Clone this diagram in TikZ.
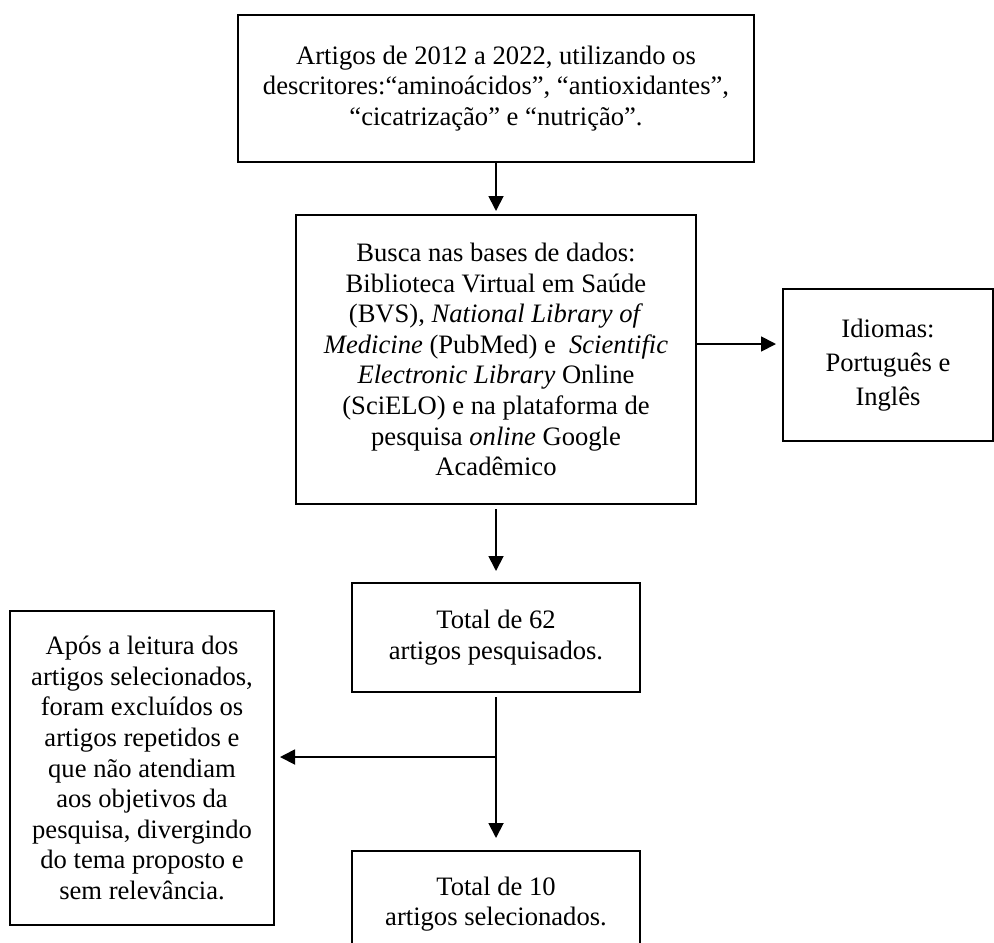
\documentclass[tikz,border=0pt]{standalone}
\usepackage{fontspec}
\setmainfont{Liberation Serif}
\usetikzlibrary{arrows.meta}

\tikzset{
    caixa/.style={draw, line width=1pt, align=center, inner sep=0pt,
        font=\fontsize{13.3}{15.3}\selectfont},
    seta/.style={line width=0.9pt, -{Triangle[width=7.5pt,length=7.5pt]}}
}

\begin{document}
\begin{tikzpicture}[x=0.5pt, y=-0.5pt]
    \useasboundingbox (0,0) rectangle (994,942);
    \clip (0,0) rectangle (994,942);

    % Draw the boxes of the flow
    \node[caixa, minimum width=258pt, minimum height=73.5pt] (artigos) at (496,88.5)
        {Artigos de 2012 a 2022, utilizando os\\descritores:“aminoácidos”, “antioxidantes”,\\“cicatrização” e “nutrição”.};
    \node[caixa, minimum width=200pt, minimum height=144.5pt] (busca) at (496,359.5)
        {Busca nas bases de dados:\\Biblioteca Virtual em Saúde\\(BVS), \textit{National Library of}\\
         \textit{Medicine} (PubMed) e \ \textit{Scientific}\\\textit{Electronic Library} Online\\
         (SciELO) e na plataforma de\\pesquisa \textit{online} Google\\Acadêmico};
    \node[caixa, minimum width=105pt, minimum height=76pt,
        font=\fontsize{13.3}{17}\selectfont] (idiomas) at (888,365)
        {Idiomas:\\Português e\\Inglês};
    \node[caixa, minimum width=144pt, minimum height=54.5pt] (total62) at (496,637.5)
        {Total de 62\\artigos pesquisados.};
    \node[caixa, minimum width=132pt, minimum height=157pt] (exclusao) at (142,768)
        {Após a leitura dos\\artigos selecionados,\\foram excluídos os\\artigos repetidos e\\
         que não atendiam\\aos objetivos da\\pesquisa, divergindo\\do tema proposto e\\sem relevância.};
    \node[caixa, minimum width=144pt, minimum height=53pt] (total10) at (496,904)
        {Total de 10\\artigos selecionados.};

    % Draw the arrows between the boxes
    \draw[seta, shorten >=1.5pt] (artigos.south) -- (busca.north);
    \draw[seta, shorten <=2pt, shorten >=5.5pt] (busca.south) -- (total62.north);
    \draw[seta, shorten >=3pt] ([yshift=7.75pt]busca.east) -- ([yshift=7.75pt]busca.east -| idiomas.west);
    \draw[seta, shorten <=2pt, shorten >=6pt] (total62.south) -- (total10.north);
    \coordinate (ramo) at (total62.south |- 0,757);
    \draw[seta, shorten >=2.5pt] (ramo) -- (ramo -| exclusao.east);
\end{tikzpicture}
\end{document}
